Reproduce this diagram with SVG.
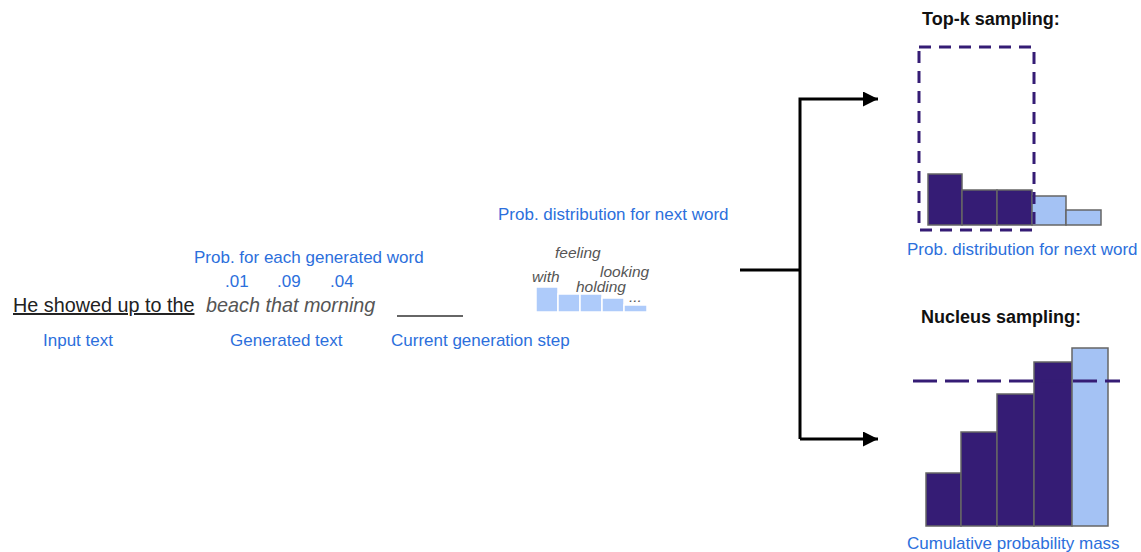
<svg xmlns="http://www.w3.org/2000/svg" width="1141" height="552" viewBox="0 0 1141 552">
<style>
.lbl{font-family:"Liberation Sans",Arial,sans-serif;font-size:17px;fill:#2c6fdc}
.main{font-family:"Liberation Sans",Arial,sans-serif;font-size:19.8px;fill:#222}
.gen{font-family:"Liberation Sans",Arial,sans-serif;font-size:19.8px;font-style:italic;fill:#555}
.word{font-family:"Liberation Sans",Arial,sans-serif;font-size:15.5px;font-style:italic;fill:#555}
.title{font-family:"Liberation Sans",Arial,sans-serif;font-size:18px;font-weight:bold;fill:#111}
.dk{fill:#351c75;stroke:#666;stroke-width:1.5}
.lt{fill:#a4c2f4;stroke:#666;stroke-width:1.5}
.sm{fill:#aecbfa;stroke:#fff;stroke-width:1.5}
.conn{fill:none;stroke:#000;stroke-width:3}
</style>
<defs>
<marker id="arr" viewBox="0 0 10 10" refX="10" refY="5" markerWidth="6.5" markerHeight="5" markerUnits="strokeWidth" orient="auto">
<path d="M0,0 L10,5 L0,10 z" fill="#000"/>
</marker>
</defs>

<g id="input">
<text class="main" x="13" y="312" text-decoration="underline">He showed up to the</text>
<text class="lbl" x="43" y="346">Input text</text>
</g>

<g id="generated">
<text class="lbl" x="194" y="263">Prob. for each generated word</text>
<text class="lbl" x="225" y="287">.01</text>
<text class="lbl" x="277" y="287">.09</text>
<text class="lbl" x="330" y="287">.04</text>
<text class="gen" x="206" y="312">beach that morning</text>
<text class="lbl" x="230" y="346">Generated text</text>
</g>

<g id="current">
<line x1="397" y1="316" x2="463" y2="316" stroke="#333" stroke-width="1.5"/>
<text class="lbl" x="391" y="346">Current generation step</text>
</g>

<g id="distribution">
<text class="lbl" x="498" y="220">Prob. distribution for next word</text>
<rect class="sm" x="536" y="287" width="22" height="25"/>
<rect class="sm" x="558" y="294" width="22" height="18"/>
<rect class="sm" x="580" y="294" width="22" height="18"/>
<rect class="sm" x="602" y="298" width="22" height="14"/>
<rect class="sm" x="624" y="305" width="23" height="7"/>
<text class="word" x="555" y="258">feeling</text>
<text class="word" x="532" y="282">with</text>
<text class="word" x="600" y="277">looking</text>
<text class="word" x="576" y="292">holding</text>
<text class="word" x="629" y="302">...</text>
</g>

<g id="topk">
<text class="title" x="922" y="25">Top-k sampling:</text>
<rect class="dk" x="928" y="174" width="34" height="51"/>
<rect class="dk" x="962" y="190" width="35" height="35"/>
<rect class="dk" x="997" y="190" width="35" height="35"/>
<rect class="lt" x="1032" y="196" width="34" height="29"/>
<rect class="lt" x="1066" y="210" width="35" height="15"/>
<rect x="919" y="47" width="115" height="183" fill="none" stroke="#351c75" stroke-width="3" stroke-dasharray="12 8"/>
<text class="lbl" x="907" y="255">Prob. distribution for next word</text>
</g>

<g id="nucleus">
<text class="title" x="921" y="323">Nucleus sampling:</text>
<rect class="dk" x="926" y="473" width="35" height="53"/>
<rect class="dk" x="961" y="432" width="36" height="94"/>
<rect class="dk" x="997" y="394" width="37" height="132"/>
<rect class="dk" x="1034" y="362" width="38" height="164"/>
<rect class="lt" x="1072" y="348" width="36" height="178"/>
<line x1="913" y1="381" x2="1120" y2="381" stroke="#351c75" stroke-width="3" stroke-dasharray="24 8"/>
<text class="lbl" x="907" y="549">Cumulative probability mass</text>
</g>

<g id="connectors">
<path class="conn" d="M740,270 H800"/>
<path class="conn" d="M800,439 V99 H878" marker-end="url(#arr)"/>
<path class="conn" d="M800,439 H878" marker-end="url(#arr)"/>
</g>
</svg>
